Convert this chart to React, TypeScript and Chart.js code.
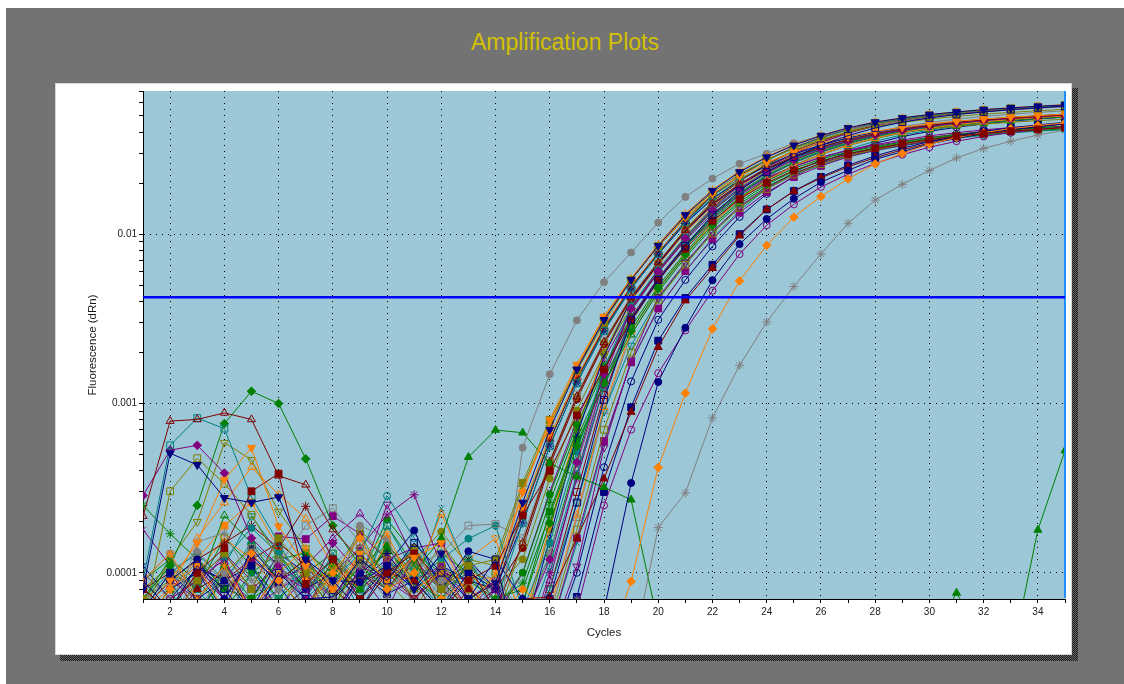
import React, { useEffect, useRef } from "react";
import { Chart, registerables } from "chart.js";

Chart.register(...registerables);

// ---------- axes ----------
const CYCLES = [1, 2, 3, 4, 5, 6, 7, 8, 9, 10, 11, 12, 13, 14, 15, 16, 17, 18, 19, 20, 21, 22, 23, 24, 25, 26, 27, 28, 29, 30, 31, 32, 33, 34, 35];
const X_TICK_LABELS = [2, 4, 6, 8, 10, 12, 14, 16, 18, 20, 22, 24, 26, 28, 30, 32, 34];
const Y_TICK_VALUES = [0.0001, 0.001, 0.01];
const Y_TICK_TEXT = ["0.0001", "0.001", "0.01"];
const Y_DECADES = [1e-5, 1e-4, 1e-3, 1e-2];
const Y_SIGNIFICANDS = [1, 2, 3, 4, 5, 6, 7, 8, 9];
const Y_MIN = 7.1e-5;
const Y_MAX = 0.0701;
const THRESHOLD = 0.00424;
const END_CYCLE = 35;

// ---------- data: fluorescence (dRn) in units of 1e-4, cycles 1..35 ----------
const UNIT = 1e-4;

const GRAY_DOT = [0.9, 1.3, 0.6, 1.0, 0.5, 0.8, 1.1, 0.7, 1.9, 1.6, 0.6, 0.9, 0.5, 0.35, 5.48, 14.9, 31, 52, 78, 117, 166, 213, 261, 299, 344, 381, 417, 441, 465, 490, 510, 527, 542, 555, 565];
const GRAY_STAR = [0.8, 0.5, 1.52, 1.72, 0.9, 1.2, 0.6, 0.9, 1.1, 0.7, 1.3, 0.8, 0.5, 0.9, 0.6, 0.4, 0.7, 0.5, 0.3, 1.85, 2.96, 8.23, 16.8, 30.3, 49.1, 76.3, 116, 159, 197, 238, 282, 321, 354, 385, 412];
const ORANGE_DIAMOND = [0.5, 0.8, 1.1, 0.6, 1.3, 0.9, 0.6, 1.0, 1.6, 0.8, 1.0, 0.7, 0.9, 0.5, 0.8, 0.6, 0.4, 0.3, 0.89, 4.19, 11.5, 27.6, 53, 85.8, 126, 167, 212, 260, 300, 340, 372, 398, 420, 438, 455];
const NAVY_DOT = [0.6, 0.9, 1.2, 0.7, 1.28, 0.85, 0.5, 0.9, 0.88, 1.1, 1.78, 0.8, 1.34, 1.2, 0.7, 0.5, 0.4, 0.6, 3.39, 13.4, 28, 53.5, 87.4, 123, 162, 203, 238, 277, 307, 341, 368, 394, 415, 430, 450];
const PURPLE_RING = [0.5, 0.7, 0.9, 1.2, 0.6, 1.0, 0.8, 0.5, 1.1, 0.9, 0.7, 1.0, 0.6, 0.8, 0.5, 0.4, 0.6, 2.5, 7.0, 15.1, 27, 46.3, 76.3, 113, 150, 190, 226, 262, 295, 326, 354, 378, 398, 414, 432];
const MAROON_TRI = [0.7, 0.5, 0.8, 1.0, 0.6, 0.9, 1.2, 0.8, 0.6, 1.0, 0.9, 0.5, 0.8, 0.6, 0.7, 0.72, 1.6, 3.6, 8.9, 21.5, 40.5, 63, 98, 140, 179, 215, 250, 283, 315, 345, 372, 395, 415, 432, 448];
const GREEN_TRI = [0.5, 0.8, 0.4, 1.1, 0.7, 0.9, 0.6, 1.0, 0.8, 1.45, 1.0, 1.6, 4.82, 6.97, 6.72, 4.44, 3.7, 3.2, 2.7, 0.5, 0.3, 0.4, 0.3, 0.5, 0.4, 0.3, 0.5, 0.4, 0.3, 0.4, 0.76, 0.4, 0.3, 1.79, 5.27];
const NAVY_SQUARE = [0.6, 1.0, 0.7, 0.9, 1.1, 0.6, 0.8, 0.5, 1.0, 0.75, 0.9, 0.6, 1.0, 0.8, 0.5, 0.4, 0.72, 3.0, 9.5, 23.5, 42, 66, 100, 140, 180, 218, 255, 290, 322, 352, 380, 405, 425, 442, 458];
const MAROON_OPEN_TRI = [2.16, 7.87, 8.05, 8.8, 8.05, 3.74, 3.31, 1.8, 1.2, 0.9, 1.4, 0.8, 1.1, 0.6, 1.5, 4.5, 11, 23, 42.4, 68, 105.5, 151.5, 198, 245, 287, 327.5, 362, 393, 418, 439, 458, 473, 486, 497, 508];
const TEAL_OPEN_SQUARE = [0.9, 5.66, 8.2, 7.1, 2.8, 1.5, 0.8, 1.2, 0.7, 1.9, 1.0, 0.6, 1.2, 0.66, 1.97, 5.6, 13.2, 26.8, 47.6, 76.4, 118, 168, 220, 273, 323, 371, 414, 453, 479, 504, 523, 540, 555, 566, 578];
const PURPLE_DIAMOND = [2.86, 5.3, 5.66, 3.88, 1.6, 1.1, 0.7, 1.5, 1.0, 0.6, 1.3, 0.9, 0.5, 0.8, 0.5, 1.2, 4.5, 15, 36.4, 60.5, 94.6, 138, 185.6, 232, 275, 317, 354, 385.5, 411, 434, 452, 469, 481.5, 493, 504];
const NAVY_DOWN_TRI = [0.8, 5.08, 4.34, 2.77, 2.6, 2.8, 1.2, 0.9, 0.6, 1.1, 0.8, 1.3, 0.7, 0.87, 2.6, 7.0, 15.9, 31.2, 53.7, 85.4, 129.8, 180.6, 233, 285, 335, 382, 424, 459, 486, 509, 527, 544, 557, 570, 580];
const OLIVE_OPEN_SQUARE = [0.5, 3.03, 4.75, 3.36, 2.2, 1.2, 1.0, 0.8, 1.7, 0.9, 0.6, 1.1, 0.8, 0.5, 0.3, 0.5, 1.8, 7.0, 20, 41, 66, 101, 143, 185, 225, 259, 291, 317, 339, 360, 378, 394, 407, 418, 428];
const ORANGE_DOWN_TRI = [0.6, 0.9, 1.5, 3.55, 5.48, 1.88, 1.1, 0.8, 1.3, 0.9, 1.23, 1.5, 0.7, 0.87, 3.0, 8.0, 17.0, 32.5, 53.7, 84.7, 126.4, 173, 220, 265, 306, 344, 377, 405, 428, 448, 465, 479, 491, 502, 512];
const GREEN_DIAMOND = [0.7, 1.1, 2.5, 7.6, 11.8, 10.0, 4.71, 1.9, 1.1, 0.8, 1.2, 0.6, 0.9, 0.7, 0.66, 1.97, 5.6, 13.2, 26.8, 47.6, 75.7, 113, 155.5, 196.6, 235.8, 270, 299.7, 323.6, 345.6, 365.4, 384.3, 398.7, 412, 423, 432];
const MAROON_SQUARE = [0.8, 0.6, 1.0, 1.4, 3.03, 3.85, 0.86, 1.2, 0.7, 1.0, 1.3, 0.6, 0.9, 1.1, 2.18, 4.0, 8.5, 15.9, 31.2, 53.7, 82, 120, 161, 201, 238, 270, 298, 321, 342, 362, 379, 393, 406, 416, 426];
const OLIVE_OPEN_DOWN_TRI = [0.6, 1.2, 2.0, 5.87, 4.65, 2.3, 1.4, 0.9, 1.8, 1.2, 0.7, 1.0, 0.8, 0.5, 1.5, 4.5, 11, 23, 42.4, 68, 107.4, 156.8, 208, 261.6, 311.5, 361, 405, 446, 474, 498, 519, 537, 551, 564, 576];
const ORANGE_OPEN_TRI = [0.5, 0.8, 1.6, 2.6, 4.2, 2.9, 2.09, 1.1, 0.8, 1.5, 0.9, 2.23, 1.0, 0.7, 0.4, 0.6, 2.2, 9.5, 26.8, 47.6, 76, 115.7, 161.8, 208, 254, 296.5, 335, 369, 399, 422, 444, 461, 476, 489, 499];
const OLIVE_SQUARE = [0.7, 0.5, 0.9, 1.3, 0.8, 1.6, 1.0, 0.6, 1.2, 0.9, 1.4, 0.8, 1.1, 1.2, 3.4, 8.0, 15.6, 30.0, 53.7, 85, 128, 177, 226.5, 275, 320.5, 363, 400.5, 432, 457, 478.5, 496, 511.5, 524, 536, 546];
const ORANGE_STAR = [0.9, 1.3, 0.7, 1.1, 0.6, 1.0, 1.4, 0.8, 1.2, 1.7, 0.8, 1.0, 0.6, 1.0, 3.0, 7.6, 16.5, 32.5, 55, 87, 132, 183, 236, 288, 338, 384, 425, 460, 487, 510, 528, 545, 558, 571, 582];
const GRAY_OPEN_SQUARE = [1.0, 0.7, 1.2, 0.9, 1.4, 1.1, 1.9, 2.41, 1.5, 0.8, 1.1, 1.3, 1.9, 1.94, 1.6, 4.6, 11.3, 23.5, 43, 69, 106, 152, 199, 246, 289, 330, 365, 396, 421, 442, 461, 476, 489, 500, 511];
const TEAL_DOT = [0.6, 0.9, 0.5, 1.2, 1.84, 1.3, 0.7, 1.0, 0.8, 1.5, 0.9, 1.2, 1.59, 1.9, 0.6, 1.5, 5.2, 16, 37.5, 62, 96.5, 140.5, 188, 235, 279, 321, 358, 390, 415, 438, 456, 473, 485, 497, 508];
const TEAL_RING = [0.7, 1.1, 0.8, 0.5, 1.0, 0.7, 1.2, 0.9, 1.3, 2.85, 1.6, 0.8, 1.0, 0.6, 0.4, 1.1, 3.8, 12.5, 31.2, 53.7, 84.7, 126.4, 173, 220, 265, 306, 344, 377, 405, 428, 448, 465, 479, 491, 502];
const PURPLE_STAR = [0.5, 0.8, 1.1, 0.7, 1.3, 0.9, 0.6, 1.0, 1.4, 2.2, 2.89, 1.1, 0.7, 0.9, 0.3, 1.0, 3.6, 12.5, 32, 55, 86, 126, 170, 212, 251, 285, 314, 338, 360, 381, 398, 413, 426, 436, 446];
const PURPLE_SQUARE = [0.6, 0.9, 0.7, 1.1, 0.8, 1.64, 1.58, 2.16, 1.7, 1.2, 1.4, 1.5, 0.8, 0.6, 0.5, 0.45, 1.6, 6.0, 17.5, 36.4, 60.5, 93.4, 134, 176.8, 217.3, 253, 286, 313, 335, 355.5, 375, 391.5, 406, 417, 427];
const PURPLE_OPEN_TRI = [0.8, 0.6, 1.0, 0.7, 1.2, 0.9, 1.1, 1.6, 2.23, 1.5, 0.9, 1.1, 0.6, 0.8, 0.3, 0.9, 3.8, 14, 36.4, 60.5, 95.8, 142, 194, 247, 298, 348, 394, 435.5, 466, 492, 513, 532, 546, 559, 572];
const PURPLE_OPEN_DOWN_TRI = [0.7, 0.5, 0.9, 1.2, 0.6, 0.8, 1.0, 0.5, 0.9, 2.53, 1.2, 0.8, 0.6, 0.9, 0.5, 0.4, 1.09, 5.5, 18, 42.4, 68, 103.7, 146, 188, 228, 262.5, 294, 319, 340, 362, 380, 396, 410, 420, 430];
const NAVY_OPEN_SQUARE = [0.9, 0.6, 1.1, 0.8, 0.5, 1.0, 0.7, 0.72, 1.2, 0.9, 1.5, 1.0, 0.7, 1.2, 0.25, 0.7, 2.6, 10.5, 31.2, 53.7, 85.4, 129.8, 180.6, 233, 285, 335, 382, 424, 459, 486, 509, 527, 544, 557, 570];
const NAVY_STAR = [0.5, 0.8, 1.0, 0.6, 1.4, 0.9, 1.1, 0.7, 1.0, 1.3, 0.8, 1.1, 0.9, 0.8, 1.97, 5.6, 13.2, 26.8, 47.6, 76, 115.7, 161.8, 208, 254, 296.5, 335, 369, 399, 422, 444, 461, 476, 489, 499, 510];
const NAVY_CROSS = [1.1, 0.7, 1.07, 0.9, 0.6, 1.2, 0.8, 1.0, 0.7, 1.1, 0.9, 0.6, 1.2, 0.8, 0.4, 1.6, 6.5, 19, 41, 66.5, 104, 149, 195, 241, 283, 322, 357, 388, 412, 433, 452, 467, 480, 491, 502];
const GREEN_OPEN_TRI = [0.6, 1.0, 0.8, 2.18, 1.5, 0.9, 1.2, 0.7, 1.1, 1.45, 0.8, 1.3, 1.0, 0.7, 0.8, 2.2, 5.9, 13.0, 25.5, 45.5, 73, 109.5, 151, 191, 229, 262.5, 291, 315, 336, 355, 373, 387, 400, 410, 419];
const GREEN_STAR = [2.5, 1.7, 1.2, 0.8, 1.1, 0.7, 1.0, 0.6, 1.3, 0.9, 1.1, 0.8, 1.2, 0.66, 0.87, 2.6, 7.0, 15.9, 31.2, 53.7, 84, 123, 165.7, 206.5, 244.5, 277.4, 306, 329, 350, 371, 388, 402, 415, 425, 435];
const GREEN_DOT = [0.7, 1.2, 0.9, 0.6, 1.0, 1.3, 0.8, 1.1, 0.93, 2.06, 1.3, 1.0, 0.8, 0.6, 1.0, 2.9, 7.5, 16.6, 32.3, 55.2, 86.5, 128.5, 175.5, 223, 268, 309, 347, 380, 408, 431, 451, 468, 482, 494, 505];
const GREEN_SQUARE = [0.9, 0.6, 1.1, 0.8, 0.7, 1.2, 1.31, 1.0, 0.8, 1.4, 0.9, 0.7, 1.1, 0.6, 0.66, 2.3, 6.2, 14.1, 28.2, 49.3, 78, 118, 164, 210, 255.5, 297, 335, 368, 397, 420, 441, 457, 471, 483, 493];
const MAROON_STAR = [0.6, 0.9, 1.2, 1.5, 1.9, 1.4, 2.47, 1.2, 0.8, 1.1, 0.7, 1.0, 0.9, 0.8, 2.2, 6.0, 13.9, 27.8, 48.8, 77.5, 119.5, 170, 222, 275, 325, 372.5, 415, 452, 477, 501, 519, 535, 549, 560, 571];
const MAROON_DOT = [0.8, 1.0, 0.6, 0.9, 1.2, 1.5, 1.1, 0.7, 1.0, 0.8, 1.3, 0.9, 0.6, 0.8, 1.4, 4.3, 10.6, 22.4, 41.5, 67, 106, 155, 206, 259, 308, 357, 400, 440, 468, 491, 512, 530, 544, 557, 568];
const OLIVE_DOT = [0.7, 0.9, 1.2, 0.8, 1.0, 0.6, 1.1, 0.9, 1.4, 1.0, 1.2, 1.75, 1.1, 0.8, 1.2, 3.6, 9.1, 19.6, 37.2, 61.5, 97, 143.5, 196, 249, 300, 350, 396, 437, 468, 494, 515, 534, 548, 561, 574];
const OLIVE_STAR = [0.5, 0.8, 1.0, 0.7, 1.2, 0.9, 0.6, 1.1, 0.8, 1.0, 1.3, 0.9, 1.2, 1.1, 3.24, 7.4, 16.2, 31.5, 54, 84.4, 124.7, 169.4, 213, 255, 291.7, 325, 353, 377.5, 399.5, 418, 433.5, 447, 458, 468.5, 477.5];
const ORANGE_OPEN_DOWN_TRI = [0.9, 0.6, 1.0, 1.6, 1.2, 0.8, 1.1, 0.7, 1.3, 0.9, 1.1, 0.8, 1.2, 1.6, 0.5, 1.9, 7.2, 19.5, 40.4, 65.5, 102, 147, 192, 238, 280, 319, 354, 385, 409, 430, 449, 464, 477, 488, 499];
const TEAL_CROSS = [0.6, 0.9, 1.2, 0.8, 0.5, 1.0, 0.7, 1.3, 0.9, 1.1, 0.8, 2.4, 1.0, 0.7, 0.5, 0.45, 1.5, 5.8, 17.5, 36.4, 60.5, 94.6, 138, 185.6, 232, 275, 317, 354, 385.5, 411, 434, 452, 469, 481.5, 493];
const GRAY_DIAMOND = [0.8, 1.0, 1.34, 0.9, 0.7, 1.1, 0.6, 1.0, 1.2, 0.8, 1.0, 0.7, 1.1, 0.9, 0.5, 1.3, 4.4, 13.5, 31.6, 54, 85, 128, 177, 226.5, 275, 320.5, 363, 400.5, 432, 457, 478.5, 496, 511.5, 524, 536];
const PURPLE_CROSS = [1.8, 1.1, 0.8, 1.3, 0.9, 0.6, 1.0, 0.7, 1.2, 0.9, 1.4, 0.8, 0.6, 0.55, 1.0, 3.0, 8.0, 18.2, 35.5, 59.5, 92, 132.5, 175, 215.5, 251, 284, 311, 333, 353.5, 373, 389.5, 404, 415, 425, 434.5];
const TEAL_OPEN_DOWN_TRI = [0.6, 0.9, 0.5, 1.1, 2.16, 1.3, 0.8, 1.0, 0.7, 1.2, 0.9, 0.6, 1.0, 0.8, 0.4, 0.8, 2.6, 9.0, 22, 41.5, 67, 102, 144, 185, 224, 257, 287, 312, 332, 352, 369, 384, 397, 406, 415];
const MAROON_OPEN_SQUARE = [1.0, 0.7, 0.9, 1.3, 0.8, 1.1, 0.6, 1.2, 0.9, 1.0, 0.7, 1.1, 0.8, 0.6, 0.3, 0.8, 3.0, 11.2, 30.5, 53, 84, 125.5, 172, 219, 264, 305, 343, 376, 404, 427, 447, 464, 478, 490, 501];
const OLIVE_DIAMOND = [0.8, 1.1, 0.7, 1.0, 1.4, 0.9, 1.2, 0.6, 1.0, 1.3, 0.8, 1.5, 0.9, 0.7, 0.45, 1.8, 7.0, 20, 41, 67, 104.5, 150, 196.5, 243, 285, 325, 360, 391, 416, 437, 456, 471, 484, 495, 506];
const GRAY_OPEN_TRI = [0.7, 0.5, 1.0, 0.8, 1.2, 0.9, 0.6, 1.1, 1.6, 0.9, 1.2, 0.7, 0.5, 0.8, 0.3, 0.55, 2.1, 9.0, 25.5, 46.5, 75, 114.5, 160, 206, 252, 294, 333, 367, 397, 420, 442, 459, 474, 487, 497];
const ORANGE_SQUARE = [0.6, 0.8, 1.2, 1.9, 2.6, 1.4, 0.9, 1.0, 0.7, 1.1, 1.3, 0.8, 1.0, 0.9, 2.4, 6.4, 14.2, 28.5, 49.5, 78, 120, 170, 222, 275, 325, 373, 416, 455, 481, 506, 525, 542, 557, 568, 580];
const NAVY_RING = [0.8, 0.6, 1.1, 0.9, 0.7, 1.3, 1.0, 0.6, 0.9, 1.2, 0.8, 1.0, 0.7, 0.9, 0.4, 0.35, 1.0, 4.2, 13.5, 31.2, 53.7, 84.7, 126.4, 173, 220, 265, 306, 344, 377, 405, 428, 448, 465, 479, 491];
const GREEN_OPEN_SQUARE = [0.9, 1.2, 0.8, 1.6, 1.1, 0.7, 1.0, 1.3, 0.8, 1.9, 1.1, 0.9, 0.6, 1.0, 0.5, 1.3, 4.8, 15.5, 35.5, 59.5, 93, 137, 184, 230.5, 273.5, 315, 352, 383, 409, 432, 450, 467, 479.5, 491, 502];
const TEAL_DIAMOND = [0.7, 1.0, 1.3, 0.9, 1.5, 1.1, 0.8, 1.2, 0.6, 1.0, 1.4, 0.9, 1.1, 0.8, 2.3, 6.1, 13.8, 27.4, 48.2, 76.8, 116.5, 163, 209.5, 255.5, 298, 336.5, 370.5, 400, 423, 445, 462, 477, 490, 500, 511];

// ---------- styles ----------
const C = {
  gray: "#808080",
  navy: "#000080",
  maroon: "#800000",
  green: "#008000",
  purple: "#800080",
  teal: "#008080",
  olive: "#808000",
  orange: "#ff8000",
};

const MARKERS: Record<string, { style: string; radius: number; rotation: number }> = {
  circle: { style: "circle", radius: 3.5, rotation: 0 },
  tri: { style: "triangle", radius: 4.6, rotation: 0 },
  dtri: { style: "triangle", radius: 4.6, rotation: 180 },
  square: { style: "rect", radius: 4.8, rotation: 0 },
  diamond: { style: "rectRot", radius: 4.3, rotation: 0 },
  star: { style: "star", radius: 4.5, rotation: 0 },
  cross: { style: "crossRot", radius: 4, rotation: 0 },
};

const SERIES = [
  { values: NAVY_DOWN_TRI, color: C.navy, marker: "dtri", open: false },
  { values: NAVY_OPEN_SQUARE, color: C.navy, marker: "square", open: true },
  { values: ORANGE_DOWN_TRI, color: C.orange, marker: "dtri", open: false },
  { values: MAROON_SQUARE, color: C.maroon, marker: "square", open: false },
  { values: OLIVE_SQUARE, color: C.olive, marker: "square", open: false },
  { values: ORANGE_STAR, color: C.orange, marker: "star", open: false },
  { values: GRAY_DOT, color: C.gray, marker: "circle", open: false },
  { values: GRAY_STAR, color: C.gray, marker: "star", open: false },
  { values: ORANGE_DIAMOND, color: C.orange, marker: "diamond", open: false },
  { values: NAVY_DOT, color: C.navy, marker: "circle", open: false },
  { values: PURPLE_RING, color: C.purple, marker: "circle", open: true },
  { values: MAROON_TRI, color: C.maroon, marker: "tri", open: false },
  { values: GREEN_TRI, color: C.green, marker: "tri", open: false },
  { values: NAVY_SQUARE, color: C.navy, marker: "square", open: false },
  { values: MAROON_OPEN_TRI, color: C.maroon, marker: "tri", open: true },
  { values: TEAL_OPEN_SQUARE, color: C.teal, marker: "square", open: true },
  { values: PURPLE_DIAMOND, color: C.purple, marker: "diamond", open: false },
  { values: OLIVE_OPEN_SQUARE, color: C.olive, marker: "square", open: true },
  { values: GREEN_DIAMOND, color: C.green, marker: "diamond", open: false },
  { values: OLIVE_OPEN_DOWN_TRI, color: C.olive, marker: "dtri", open: true },
  { values: ORANGE_OPEN_TRI, color: C.orange, marker: "tri", open: true },
  { values: GRAY_OPEN_SQUARE, color: C.gray, marker: "square", open: true },
  { values: TEAL_DOT, color: C.teal, marker: "circle", open: false },
  { values: TEAL_RING, color: C.teal, marker: "circle", open: true },
  { values: PURPLE_STAR, color: C.purple, marker: "star", open: false },
  { values: PURPLE_SQUARE, color: C.purple, marker: "square", open: false },
  { values: PURPLE_OPEN_TRI, color: C.purple, marker: "tri", open: true },
  { values: PURPLE_OPEN_DOWN_TRI, color: C.purple, marker: "dtri", open: true },
  { values: NAVY_STAR, color: C.navy, marker: "star", open: false },
  { values: NAVY_CROSS, color: C.navy, marker: "cross", open: false },
  { values: GREEN_OPEN_TRI, color: C.green, marker: "tri", open: true },
  { values: GREEN_STAR, color: C.green, marker: "star", open: false },
  { values: GREEN_DOT, color: C.green, marker: "circle", open: false },
  { values: GREEN_SQUARE, color: C.green, marker: "square", open: false },
  { values: MAROON_STAR, color: C.maroon, marker: "star", open: false },
  { values: MAROON_DOT, color: C.maroon, marker: "circle", open: false },
  { values: OLIVE_DOT, color: C.olive, marker: "circle", open: false },
  { values: OLIVE_STAR, color: C.olive, marker: "star", open: false },
  { values: ORANGE_OPEN_DOWN_TRI, color: C.orange, marker: "dtri", open: true },
  { values: TEAL_CROSS, color: C.teal, marker: "cross", open: false },
  { values: GRAY_DIAMOND, color: C.gray, marker: "diamond", open: false },
  { values: PURPLE_CROSS, color: C.purple, marker: "cross", open: false },
  { values: TEAL_OPEN_DOWN_TRI, color: C.teal, marker: "dtri", open: true },
  { values: MAROON_OPEN_SQUARE, color: C.maroon, marker: "square", open: true },
  { values: OLIVE_DIAMOND, color: C.olive, marker: "diamond", open: false },
  { values: GRAY_OPEN_TRI, color: C.gray, marker: "tri", open: true },
  { values: ORANGE_SQUARE, color: C.orange, marker: "square", open: false },
  { values: NAVY_RING, color: C.navy, marker: "circle", open: true },
  { values: GREEN_OPEN_SQUARE, color: C.green, marker: "square", open: true },
  { values: TEAL_DIAMOND, color: C.teal, marker: "diamond", open: false },
];

const FONT = "'Liberation Sans', Arial, sans-serif";
const PLOT_BG = "#9cc7d6";
const TEXT = "#1a1a1a";

const Y_TICKS = Y_DECADES.flatMap((d) => Y_SIGNIFICANDS.map((s) => s * d)).filter(
  (v) => v >= Y_MIN && v <= Y_MAX
);
const isDecade = (v: number) => Y_TICK_VALUES.findIndex((t) => Math.abs(Math.log10(t) - Math.log10(v)) < 1e-6);

const plotBackground = {
  id: "plotBackground",
  beforeDraw(chart: any) {
    const { ctx, chartArea: a } = chart;
    ctx.save();
    ctx.fillStyle = PLOT_BG;
    ctx.fillRect(a.left, a.top, a.right - a.left, a.bottom - a.top);
    ctx.restore();
  },
};

export default function App() {
  const canvasRef = useRef<HTMLCanvasElement | null>(null);

  useEffect(() => {
    const canvas = canvasRef.current;
    if (!canvas) return;

    const seriesSets = SERIES.map((s, i) => {
      const m = MARKERS[s.marker];
      return {
        label: "Well " + (i + 1),
        data: s.values.map((v) => v * UNIT),
        borderColor: s.color,
        backgroundColor: s.open ? "rgba(0,0,0,0)" : s.color,
        borderWidth: 1,
        tension: 0,
        pointStyle: m.style,
        pointRadius: m.radius,
        pointRotation: m.rotation,
        pointBorderWidth: 1,
        pointBorderColor: s.color,
        pointBackgroundColor: s.open ? "rgba(0,0,0,0)" : s.color,
      };
    });

    const chart = new Chart(canvas, {
      type: "line",
      data: {
        labels: CYCLES,
        datasets: [
          {
            label: "Threshold",
            data: [
              { x: CYCLES[0], y: THRESHOLD },
              { x: CYCLES[CYCLES.length - 1], y: THRESHOLD },
            ],
            borderColor: "#0000ff",
            borderWidth: 2.5,
            pointRadius: 0,
          },
          {
            label: "End",
            data: [
              { x: END_CYCLE, y: Y_MIN },
              { x: END_CYCLE, y: Y_MAX },
            ],
            borderColor: "#1e90ff",
            borderWidth: 2,
            pointRadius: 0,
            clip: false,
          },
          ...seriesSets,
        ] as any,
      },
      options: {
        responsive: false,
        animation: false,
        devicePixelRatio: 1,
        events: [],
        layout: { padding: { left: 0, right: 7, top: 6, bottom: 0 } },
        plugins: {
          legend: { display: false },
          tooltip: { enabled: false },
          title: { display: false },
        },
        scales: {
          x: {
            type: "linear",
            min: CYCLES[0],
            max: CYCLES[CYCLES.length - 1],
            ticks: {
              stepSize: 1,
              autoSkip: false,
              maxRotation: 0,
              minRotation: 0,
              padding: 3,
              color: TEXT,
              font: { family: FONT, size: 10 },
              callback: (v: any) => (X_TICK_LABELS.includes(Number(v)) ? String(v) : ""),
            },
            grid: {
              color: (ctx: any) =>
                ctx.tick && X_TICK_LABELS.includes(ctx.tick.value) ? "#000" : "rgba(0,0,0,0)",
              lineWidth: 1,
              tickColor: "#000",
              tickLength: 4,
            },
            border: { display: true, color: "#000", width: 1, dash: [1, 5] },
            title: {
              display: true,
              text: "Cycles",
              color: TEXT,
              font: { family: FONT, size: 11.5 },
              padding: { top: 0, bottom: 15 },
            },
            afterFit: (scale: any) => {
              scale.height = 56;
            },
          },
          y: {
            type: "logarithmic",
            min: Y_MIN,
            max: Y_MAX,
            afterBuildTicks: (scale: any) => {
              scale.ticks = Y_TICKS.map((v) => ({ value: v }));
            },
            ticks: {
              autoSkip: false,
              padding: 2,
              color: TEXT,
              font: { family: FONT, size: 10 },
              callback: (v: any) => {
                const i = isDecade(Number(v));
                return i >= 0 ? Y_TICK_TEXT[i] : "";
              },
            },
            grid: {
              color: (ctx: any) => (ctx.tick && isDecade(ctx.tick.value) >= 0 ? "#000" : "rgba(0,0,0,0)"),
              lineWidth: 1,
              tickColor: "#000",
              tickLength: 4,
            },
            border: { display: true, color: "#000", width: 1, dash: [1, 5] },
            title: {
              display: true,
              text: "Fluorescence (dRn)",
              color: TEXT,
              font: { family: FONT, size: 11.5 },
              padding: { top: 31, bottom: 0 },
            },
            afterFit: (scale: any) => {
              scale.width = 88;
            },
          },
        },
      } as any,
      plugins: [plotBackground],
    });

    return () => chart.destroy();
  }, []);

  return (
    <div
      style={{
        position: "fixed",
        left: 0,
        top: 0,
        width: 1124,
        height: 684,
        background: "#ffffff",
        overflow: "hidden",
      }}
    >
      <div
        style={{
          position: "absolute",
          left: 6,
          top: 8,
          width: 1118,
          height: 676,
          background: "#737373",
        }}
      />
      <div
        style={{
          position: "absolute",
          left: 6,
          top: 31,
          width: 1118,
          textAlign: "center",
          fontFamily: FONT,
          fontSize: 23,
          lineHeight: "23px",
          color: "#d4c000",
          whiteSpace: "nowrap",
        }}
      >
        Amplification Plots
      </div>
      <div
        style={{
          position: "absolute",
          left: 60,
          top: 88,
          width: 1018,
          height: 573,
          background: "repeating-conic-gradient(#1e1e1e 0% 25%, #666666 0% 50%) 0 0 / 2px 2px",
        }}
      />
      <div
        style={{
          position: "absolute",
          left: 55,
          top: 83,
          width: 1017,
          height: 572,
          boxSizing: "border-box",
          background: "#ffffff",
          border: "1px solid #d6d6d6",
        }}
      />
      <canvas
        ref={canvasRef}
        width={1017}
        height={572}
        style={{ position: "absolute", left: 55, top: 83, width: 1017, height: 572, display: "block" }}
      />
    </div>
  );
}
